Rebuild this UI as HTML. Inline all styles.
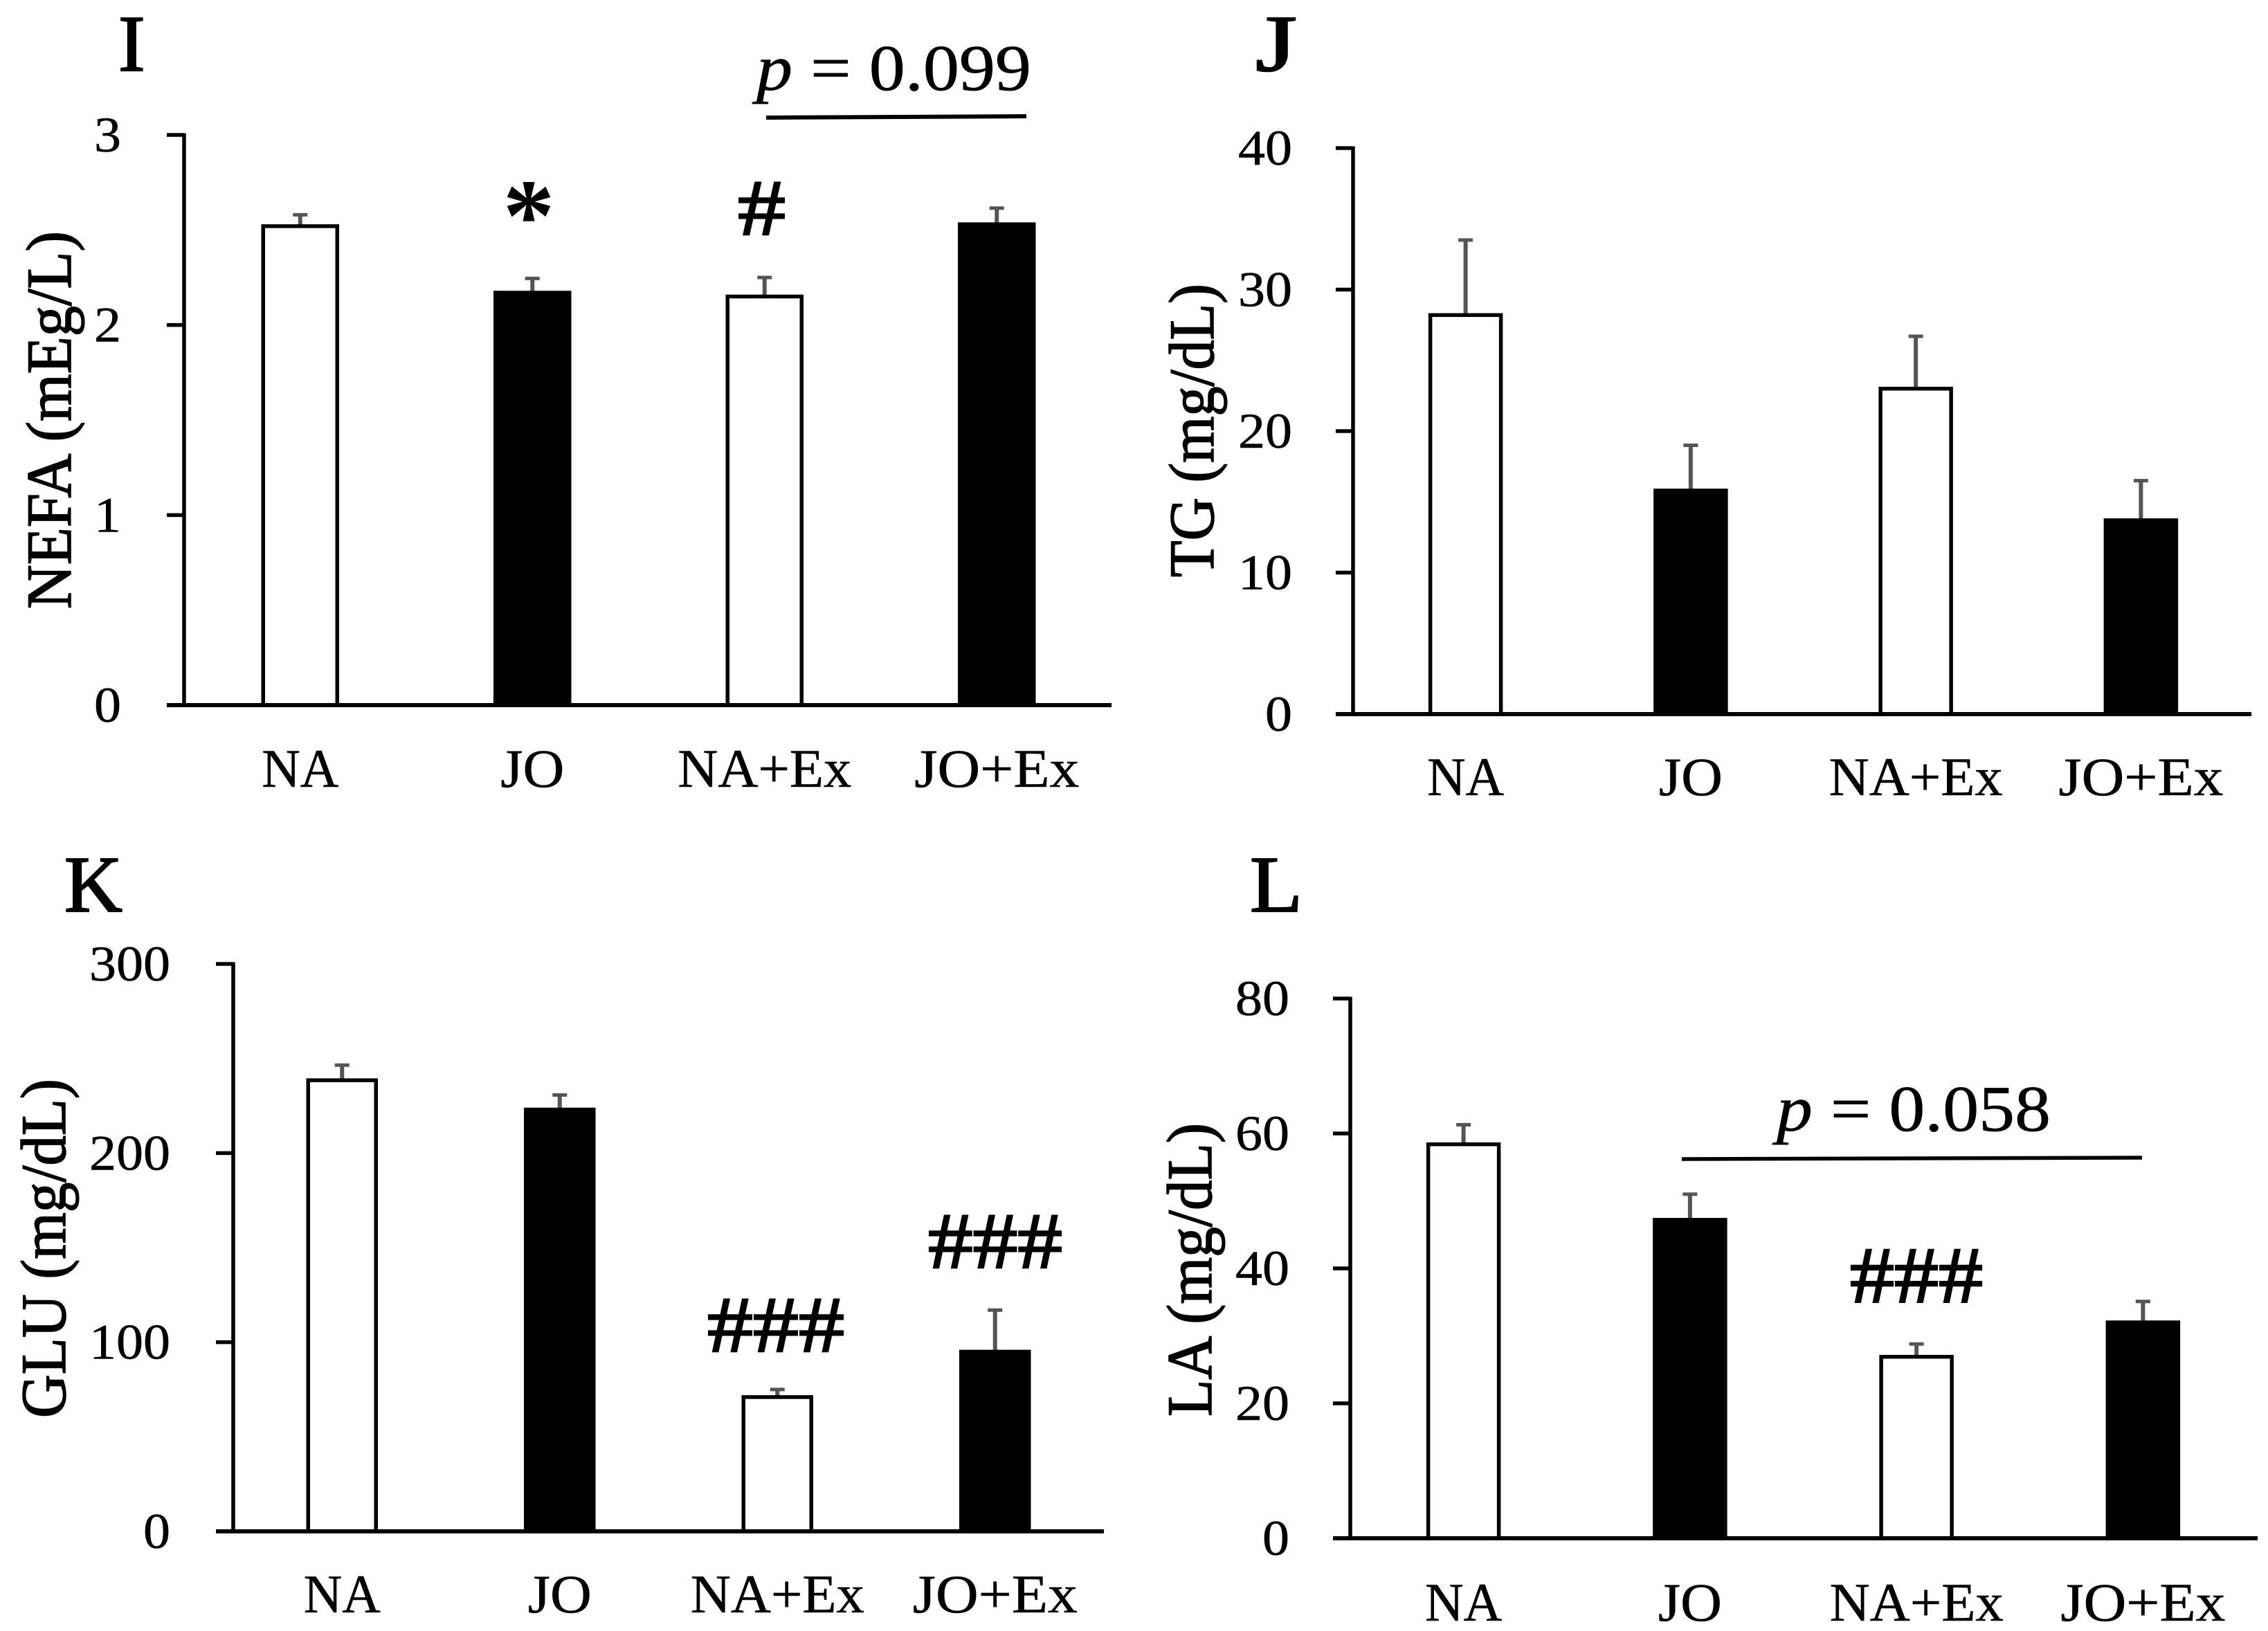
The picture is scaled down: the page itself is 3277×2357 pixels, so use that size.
<!DOCTYPE html>
<html lang="en">
<head>
<meta charset="utf-8">
<title>Plasma metabolite bar charts</title>
<style>
  html, body { margin: 0; padding: 0; background: #fff; }
  body { width: 3277px; height: 2357px; overflow: hidden; }
  svg { display: block; }
  text { font-family: "Liberation Serif", serif; fill: #000; }
  .cat-label { font-size: 78px; stroke: #000; stroke-width: 0.6px; }
  .tick-label { font-size: 72px; stroke: #000; stroke-width: 0.6px; }
  .y-title { font-size: 92px; stroke: #000; stroke-width: 1.6px; }
  .panel-letter { font-size: 116px; stroke: #000; stroke-width: 2.2px; }
  .p-text { font-size: 94px; stroke: #000; stroke-width: 0.7px; }
  .mark { font-size: 115px; stroke: #000; stroke-width: 2.5px; }
  .star { font-size: 150px; font-weight: bold; stroke: none; }
</style>
</head>
<body>
<svg id="figure" width="3277" height="2357" viewBox="0 0 3277 2357" xmlns="http://www.w3.org/2000/svg">
  <rect x="0" y="0" width="3277" height="2357" fill="#fff"/>

  <text class="panel-letter" x="171" y="102">I</text>
  <text class="panel-letter" x="1814" y="102" textLength="60" lengthAdjust="spacingAndGlyphs">J</text>
  <text class="panel-letter" x="93" y="1317">K</text>
  <text class="panel-letter" x="1806" y="1317" textLength="76" lengthAdjust="spacingAndGlyphs">L</text>

  <text class="y-title" transform="translate(102 880) rotate(-90)" textLength="546" lengthAdjust="spacingAndGlyphs">NEFA (mEg/L)</text>
  <text class="y-title" transform="translate(1753 834) rotate(-90)" textLength="424" lengthAdjust="spacingAndGlyphs">TG (mg/dL)</text>
  <text class="y-title" transform="translate(94 2049) rotate(-90)" textLength="490" lengthAdjust="spacingAndGlyphs">GLU (mg/dL)</text>
  <text class="y-title" transform="translate(1750 2047) rotate(-90)" textLength="424" lengthAdjust="spacingAndGlyphs">LA (mg/dL)</text>

  <text class="p-text" x="1093" y="130" textLength="397" lengthAdjust="spacingAndGlyphs"><tspan font-style="italic">p</tspan> = 0.099</text>
  <line x1="1107" y1="170" x2="1483" y2="168" stroke="#000" stroke-width="6"/>
  <text class="p-text" x="2567" y="1634" textLength="396" lengthAdjust="spacingAndGlyphs"><tspan font-style="italic">p</tspan> = 0.058</text>
  <line x1="2430" y1="1675" x2="3095" y2="1673" stroke="#000" stroke-width="5.5"/>

  <text class="star" x="764" y="362" text-anchor="middle">*</text>
  <text class="mark" x="1066" y="339" textLength="69" lengthAdjust="spacingAndGlyphs">#</text>
  <text class="mark" x="1022" y="1953" textLength="198" lengthAdjust="spacingAndGlyphs">###</text>
  <text class="mark" x="1341" y="1832" textLength="194" lengthAdjust="spacingAndGlyphs">###</text>
  <text class="mark" x="2673" y="1882" textLength="192" lengthAdjust="spacingAndGlyphs">###</text>
</svg>

<script>
const categories = ["NA", "JO", "NA+Ex", "JO+Ex"];
const barFills = ["#fff", "#000", "#fff", "#000"];

const nefaValues = [2.52, 2.17, 2.15, 2.53];
const nefaErrors = [0.06, 0.075, 0.10, 0.085];
const nefaTicks = [0, 1, 2, 3];

const tgValues = [28.2, 15.8, 23.0, 13.7];
const tgErrors = [5.3, 3.2, 3.7, 2.8];
const tgTicks = [0, 10, 20, 30, 40];

const gluValues = [238.5, 223, 71, 95];
const gluErrors = [8, 7.7, 4, 22];
const gluTicks = [0, 100, 200, 300];

const laValues = [58.4, 47.2, 26.9, 32];
const laErrors = [2.9, 3.8, 1.9, 3.1];
const laTicks = [0, 20, 40, 60, 80];

const labelLengths = { "NA": 111, "JO": 92, "NA+Ex": 251, "JO+Ex": 238 };
const SVG_NS = "http://www.w3.org/2000/svg";
const figure = document.getElementById("figure");

function addShape(tag) {
  const el = document.createElementNS(SVG_NS, tag);
  figure.appendChild(el);
  return el;
}

function drawPanel(p) {
  const y = function (v) {
    return p.y0 - (v / p.max) * (p.y0 - p.yTop);
  };
  const band = (p.bandEnd - p.xAxis) / categories.length;
  const x = function (i) {
    return p.xAxis + band * (i + 0.5);
  };

  p.values.forEach(function (v, i) {
    const top = y(v + p.errors[i]);
    const stem = addShape("line");
    
    
    stem.setAttribute("x1", x(i));
    stem.setAttribute("x2", x(i));
    stem.setAttribute("y1", y(v));
    stem.setAttribute("y2", top);
    stem.setAttribute("stroke", "#555");
    stem.setAttribute("stroke-width", 6);

    const cap = addShape("line");
    
    
    cap.setAttribute("x1", x(i) - 10.5);
    cap.setAttribute("x2", x(i) + 10.5);
    cap.setAttribute("y1", top);
    cap.setAttribute("y2", top);
    cap.setAttribute("stroke", "#555");
    cap.setAttribute("stroke-width", 5);

    const bar = addShape("rect");
    
    
    bar.setAttribute("x", x(i) - p.barWidth / 2);
    bar.setAttribute("width", p.barWidth);
    bar.setAttribute("y", y(v));
    bar.setAttribute("height", p.y0 - y(v));
    bar.setAttribute("fill", barFills[i]);
    bar.setAttribute("stroke", "#000");
    bar.setAttribute("stroke-width", 5.5);

    const label = addShape("text");
    
    
    label.setAttribute("class", "cat-label");
    label.setAttribute("x", x(i));
    label.setAttribute("y", p.labelY);
    label.setAttribute("text-anchor", "middle");
    label.setAttribute("textLength", labelLengths[categories[i]]);
    label.setAttribute("lengthAdjust", "spacingAndGlyphs");
    label.textContent = categories[i];
  });

  p.ticks.forEach(function (t) {
    const tick = addShape("line");
    
    
    tick.setAttribute("x1", p.xAxis - 25);
    tick.setAttribute("x2", p.xAxis);
    tick.setAttribute("y1", y(t));
    tick.setAttribute("y2", y(t));
    tick.setAttribute("stroke", "#000");
    tick.setAttribute("stroke-width", 5.5);

    const text = addShape("text");
    
    
    text.setAttribute("class", "tick-label");
    text.setAttribute("x", p.tickRight);
    text.setAttribute("y", y(t) + 24);
    text.setAttribute("text-anchor", "end");
    text.setAttribute("textLength", String(t).length * 39);
    text.setAttribute("lengthAdjust", "spacingAndGlyphs");
    text.textContent = t;
  });

  const yAxis = addShape("line");
  
  
  yAxis.setAttribute("x1", p.xAxis);
  yAxis.setAttribute("x2", p.xAxis);
  yAxis.setAttribute("y1", p.yTop - 2.5);
  yAxis.setAttribute("y2", p.y0);
  yAxis.setAttribute("stroke", "#000");
  yAxis.setAttribute("stroke-width", 5.5);

  const xAxis = addShape("line");
  
  
  xAxis.setAttribute("x1", p.xAxis - 25);
  xAxis.setAttribute("x2", p.xEnd);
  xAxis.setAttribute("y1", p.y0);
  xAxis.setAttribute("y2", p.y0);
  xAxis.setAttribute("stroke", "#000");
  xAxis.setAttribute("stroke-width", 6);
}

drawPanel({ id: "nefa", values: nefaValues, errors: nefaErrors, ticks: nefaTicks, max: 3, xAxis: 266, xEnd: 1606, bandEnd: 1608, yTop: 195, y0: 1019, barWidth: 107, labelY: 1137, tickRight: 175 });
drawPanel({ id: "tg", values: tgValues, errors: tgErrors, ticks: tgTicks, max: 40, xAxis: 1955, xEnd: 3253, bandEnd: 3256, yTop: 214, y0: 1032, barWidth: 102, labelY: 1149, tickRight: 1867 });
drawPanel({ id: "glu", values: gluValues, errors: gluErrors, ticks: gluTicks, max: 300, xAxis: 337, xEnd: 1595, bandEnd: 1595, yTop: 1393, y0: 2213, barWidth: 98, labelY: 2330, tickRight: 246 });
drawPanel({ id: "la", values: laValues, errors: laErrors, ticks: laTicks, max: 80, xAxis: 1951, xEnd: 3262, bandEnd: 3260, yTop: 1443, y0: 2223, barWidth: 102, labelY: 2342, tickRight: 1863 });
</script>
</body>
</html>
